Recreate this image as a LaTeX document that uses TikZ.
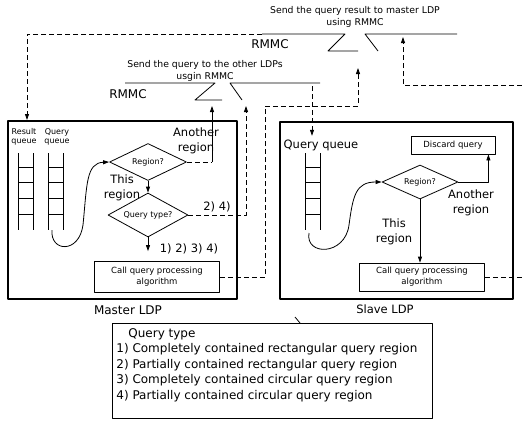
\documentclass[tikz,border=0pt]{standalone}
\usepackage{fontspec}
\setmainfont{DejaVu Sans}
\usetikzlibrary{arrows.meta,shapes.geometric}
\begin{document}
\begin{tikzpicture}[x=1pt,y=-1pt,>={Triangle[length=6pt,width=4pt]},line join=round,line width=0.8pt,
	ldp/.style={draw,line width=2pt,minimum width=229pt,minimum height=178pt,anchor=north west},
	proc/.style={draw,rectangle,inner sep=1pt,align=center,font=\fontsize{8.5}{11}\selectfont},
	decide/.style={draw,diamond,inner sep=0pt,aspect=2,font=\fontsize{8}{9.5}\selectfont},
	lbl/.style={align=center,font=\fontsize{8}{9.5}\selectfont},
	biglbl/.style={align=center,font=\fontsize{11.5}{15}\selectfont},
	toplbl/.style={align=center,font=\fontsize{9.3}{11.5}\selectfont},
	rmmc/.style={font=\fontsize{12}{14}\selectfont},
	msg/.style={dash pattern=on 5pt off 3pt}]
	\useasboundingbox (0,0) rectangle (522,424);
	% LDP boxes
	\node[ldp] (master) at (7,120) {};
	\node[ldp,minimum width=233pt,minimum height=177pt] (slave) at (279,121) {};
	\node[biglbl,font=\fontsize{12}{14}\selectfont] (mname) at (128,310) {Master LDP};
	\node[biglbl] (sname) at (385,309) {Slave LDP};
	% RMMC buses
	\node[toplbl] (tsend) at (355,17) {Send the query result to master LDP\\using RMMC};
	\node[toplbl] (lsend) at (205,71) {Send the query to the other LDPs\\usgin RMMC};
	\node[rmmc] (trmmc) at (270,44) {RMMC};
	\node[rmmc] (lrmmc) at (128,94) {RMMC};
	\coordinate (tb1) at (262,34);
	\coordinate (lb1) at (125,83);
	\draw (tb1) -- (345,34) -- (328,51) -- (358,51);
	\draw (378,51) -- (365,34) -- (457,34);
	\draw (lb1) -- (215,83) -- (195,100) -- (222,100);
	\draw (242,100) -- (230,83) -- (320,83);
	\coordinate (tbA) at (358,68);
	\coordinate (tbB) at (403,37);
	\coordinate (lbA) at (212,106);
	\coordinate (lbB) at (246,106);
	\coordinate (lbout) at (312,86);
	\coordinate (mcorner) at (265,106);
	\coordinate (rin) at (522,85);
	\coordinate (rout) at (522,277);
	% queues
	\node[lbl] (mres) at (24,137) {Result\\queue};
	\node[lbl] (mqq) at (57,137) {Query\\queue};
	\node[biglbl] (sqq) at (321,145) {Query queue};
	\foreach \x in {18,48,305}{
		\draw (\x,153) -- (\x,230) (\x+15,153) -- (\x+15,230);
		\foreach \y in {167,182,198,214}
			\draw (\x,\y) -- (\x+15,\y);
	}
	\coordinate (mqbot) at (52,230);
	\coordinate (sqbot) at (309,233);
	% master LDP
	\node[decide,minimum width=77pt,minimum height=37pt] (mreg) at (148,162) {Region?};
	\node[decide,minimum width=80pt,minimum height=44pt] (mtype) at (148,215) {Query type?};
	\node[proc,minimum width=125pt,minimum height=31pt] (mcall) at (157,277) {Call query processing\\algorithm};
	\node[biglbl] (manother) at (196,141) {Another\\region};
	\node[biglbl] (mthis) at (122,188) {This\\region};
	\node[biglbl] (m24) at (217,207) {2) 4)};
	\node[biglbl] (m1234) at (189,249) {1) 2) 3) 4)};
	\draw[->] (mqbot) .. controls (50,252) and (79,254) .. (83,225) .. controls (87,185) and (86,163) .. (mreg.west);
	\draw[->] (mreg.south) -- (mtype.north);
	\draw[->,shorten >=10pt] (mtype.south) -- (mtype.south |- mcall.north);
	% slave LDP
	\node[decide,minimum width=76pt,minimum height=34pt] (sreg) at (420,182) {Region?};
	\node[proc,minimum width=84pt,minimum height=18pt] (sdisc) at (453,145) {Discard query};
	\node[proc,minimum width=125pt,minimum height=28pt] (scall) at (422,277) {Call query processing\\algorithm};
	\node[biglbl] (sanother) at (471,203) {Another\\region};
	\node[biglbl] (sthis) at (394,232) {This\\region};
	\draw[->] (sqbot) .. controls (305,256) and (345,256) .. (349,225) .. controls (353,195) and (356,182) .. (sreg.west);
	\draw[->] (sreg.east) -| ([xshift=-7pt]sdisc.south east);
	\draw[->] (sreg.south) -- (sreg.south |- scall.north);
	% messages
	\draw[msg,->] (tb1) -| ([xshift=20pt]master.north west);
	\draw[msg] (mreg.east) -- (mreg.east -| lbA);
	\draw[->] (mreg.east -| lbA) -- (lbA);
	\draw[msg,->] (mtype.east) -| (lbB);
	\draw[msg,->] (mcall.east) -| (mcorner) -| (tbA);
	\draw[msg,->] (lbout) -- (lbout |- sqq.north);
	\draw[msg] (scall.east) -- (rout);
	\draw[msg,->] (rin) -| (tbB);
	% query types
	\draw (295,317) -- (300,323);
	\node[draw,anchor=north west,minimum width=320pt,minimum height=95pt] (qtbox) at (112,323) {};
	\node[anchor=north west,align=left,inner sep=0pt,font=\fontsize{12}{15.5}\selectfont] (qtext) at ([xshift=4pt,yshift=-5pt]qtbox.north west)
		{\hspace*{12pt}Query type\\1) Completely contained rectangular query region\\2) Partially contained rectangular query region\\3) Completely contained circular query region\\4) Partially contained circular query region};
\end{tikzpicture}
\end{document}
